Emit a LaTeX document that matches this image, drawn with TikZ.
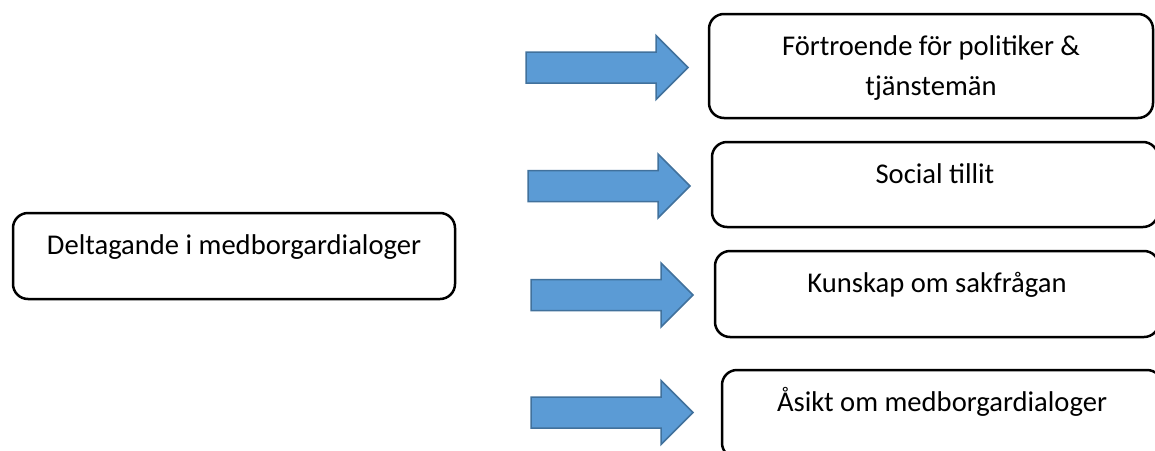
\documentclass[tikz,border=0pt]{standalone}
\usepackage{fontspec}
\setmainfont{Carlito}
\usetikzlibrary{calc}
\definecolor{arrfill}{HTML}{5B9BD5}
\definecolor{arrline}{HTML}{41719C}
\tikzset{
  box/.style={draw=black, line width=2.5pt, rounded corners=15pt, inner sep=0pt},
  lbl/.style={inner sep=0pt, align=center, anchor=base, font=\fontsize{28.6}{40}\selectfont},
  fatarrow/.style={fill=arrfill, draw=arrline, line width=1.5pt, line join=miter}
}
% block arrow, given by the middle of its tail
\def\blockarrow(#1,#2){\draw[fatarrow] (#1,#2) ++(0,-15.5) -- ++(130,0) -- ++(0,-16.5) -- ++(32,32) -- ++(-32,32) -- ++(0,-16.5) -- ++(-130,0) -- cycle;}

\begin{document}
\begin{tikzpicture}[x=1pt, y=-1pt]
			%%%%% START %%%%%
			
			\useasboundingbox (0,0) rectangle (1155,450);
			
			\node[box, minimum width=442pt, minimum height=86pt] (start) at (234,256) {};
			\node[lbl] (starttxt) at ([yshift=-43pt]start.north) {Deltagande i medborgardialoger};
			
			\blockarrow(526,67.5)
			\blockarrow(528,186)
			\blockarrow(531,295)
			\blockarrow(531,412.5)
			
			\node[box, minimum width=444pt, minimum height=104pt] (trust) at (931,66) {};
			% base is the last line here
			\node[lbl] (trusttxt) at ([yshift=-83pt]trust.north) {Förtroende för politiker \&\\tjänstemän};
			
			\node[box, minimum width=446pt, minimum height=85pt] (social) at (935,184.5) {};
			\node[lbl] (socialtxt) at ([yshift=-43pt]social.north) {Social tillit};
			
			\node[box, minimum width=444pt, minimum height=86pt] (know) at (937,294) {};
			\node[lbl] (knowtxt) at ([yshift=-43pt]know.north) {Kunskap om sakfrågan};
			
			\node[box, minimum width=440pt, minimum height=88pt] (view) at (942,414) {};
			\node[lbl] (viewtxt) at ([yshift=-43pt]view.north) {Åsikt om medborgardialoger};
			
			%%%%% END %%%%%
\end{tikzpicture}
\end{document}
